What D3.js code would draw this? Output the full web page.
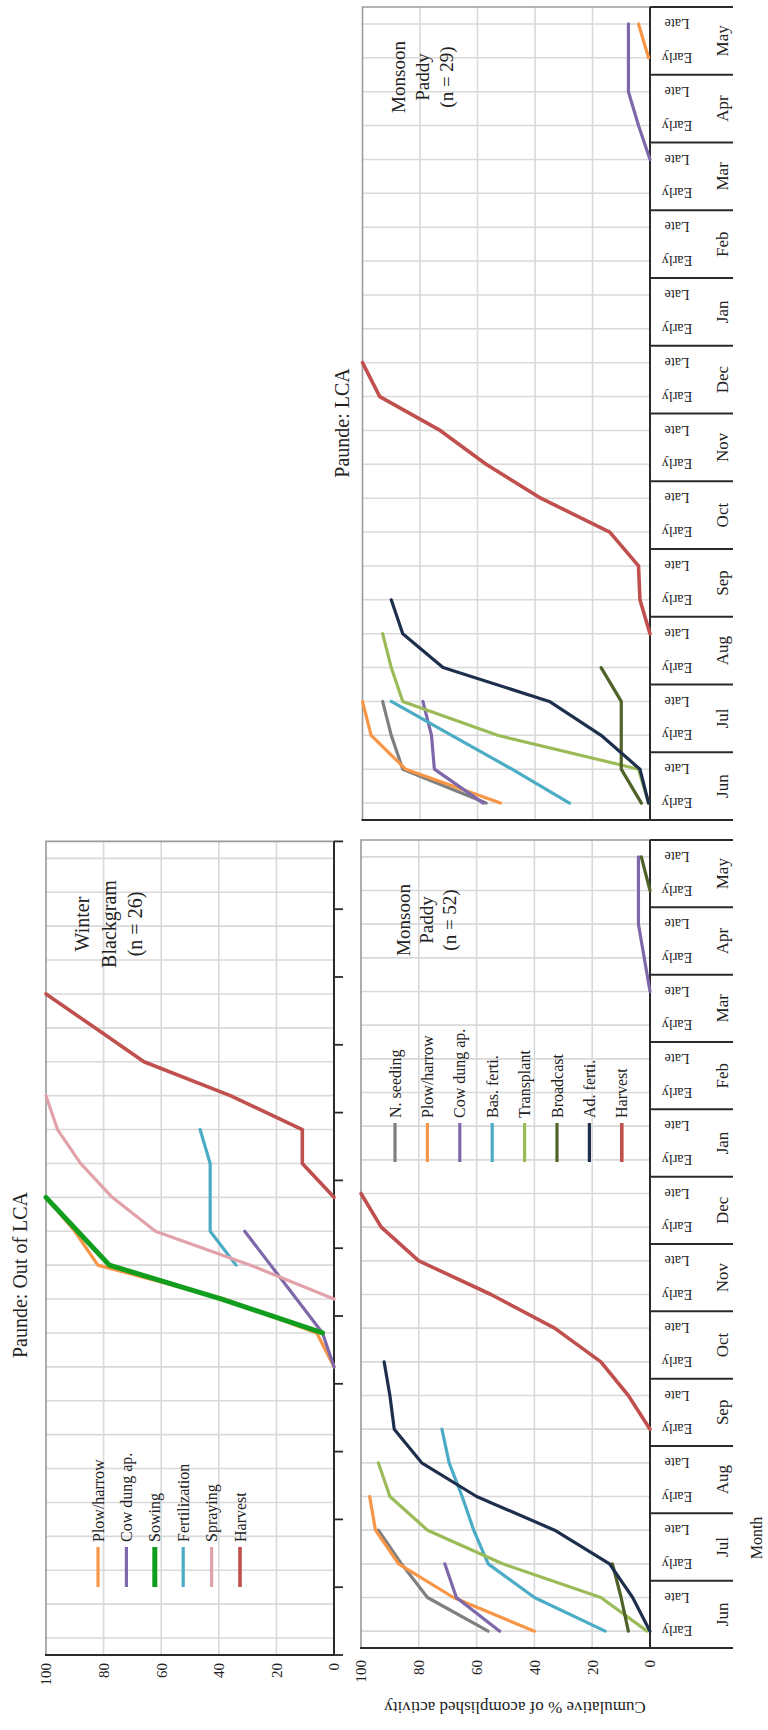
<!DOCTYPE html>
<html>
<head>
<meta charset="utf-8">
<script src="https://cdn.jsdelivr.net/npm/d3@7"></script>
<style>
  html, body { margin: 0; padding: 0; background: #fff; }
  svg { display: block; }
</style>
</head>
<body>
<svg id="fig" width="768" height="1730"></svg>
<script>
// ---------- categories ----------
const months = ["Jun","Jul","Aug","Sep","Oct","Nov","Dec","Jan","Feb","Mar","Apr","May"];
const periods = ["Early","Late"];
const categories = months.flatMap(m => periods.map(p => `${m} ${p}`));
const valueTicks = [0, 20, 40, 60, 80, 100];
const _ = null;

// ---------- Paunde: Out of LCA, Winter Blackgram (n = 26) ----------
//                      Jun    Jul    Aug    Sep    Oct    Nov     Dec     Jan      Feb     Mar     Apr    May
const wbPlowHarrow   = [_,_,  _,_,  _,_,  _,_,  0,6,   38,82,  90,100, _,_,     _,_,    _,_,    _,_,   _,_];
const wbCowDung      = [_,_,  _,_,  _,_,  _,_,  0,4,   13,22,  31,_,   _,_,     _,_,    _,_,    _,_,   _,_];
const wbSowing       = [_,_,  _,_,  _,_,  _,_,  _,4,   39,78,  89,100, _,_,     _,_,    _,_,    _,_,   _,_];
const wbFertilization= [_,_,  _,_,  _,_,  _,_,  _,_,   _,34,   43,43,  43,46.5, _,_,    _,_,    _,_,   _,_];
const wbSpraying     = [_,_,  _,_,  _,_,  _,_,  _,_,   0,29,   62,77,  88,96,   100,_,  _,_,    _,_,   _,_];
const wbHarvest      = [_,_,  _,_,  _,_,  _,_,  _,_,   _,_,    _,0,    11,11,   36,66,  83,100, _,_,   _,_];

// ---------- Paunde: Out of LCA, Monsoon Paddy (n = 52) ----------
const mpNSeeding     = [56,77,   86,94,   _,_,     _,_,     _,_,   _,_,    _,_,   _,_, _,_, _,_, _,_, _,_];
const mpPlowHarrow   = [40,68,   87,95,   97,_,    _,_,     _,_,   _,_,    _,_,   _,_, _,_, _,_, _,_, _,_];
const mpCowDung      = [52,67,   71,_,    _,_,     _,_,     _,_,   _,_,    _,_,   _,_, _,_, _,0, 2,4, 4,4];
const mpBasFerti     = [15.5,40, 56,61,   65,69.5, 72,_,    _,_,   _,_,    _,_,   _,_, _,_, _,_, _,_, _,_];
const mpTransplant   = [1,17,    51,77,   90,94,   _,_,     _,_,   _,_,    _,_,   _,_, _,_, _,_, _,_, _,_];
const mpBroadcast    = [7.5,10,  13,_,    _,_,     _,_,     _,_,   _,_,    _,_,   _,_, _,_, _,_, _,_, 0,3];
const mpAdFerti      = [0,6,     14,33,   60,79,   88.5,90, 92,_,  _,_,    _,_,   _,_, _,_, _,_, _,_, _,_];
const mpHarvest      = [_,_,     _,_,     _,_,     0,7.5,   17,33, 55,80,  93,100, _,_, _,_, _,_, _,_, _,_];

// ---------- Paunde: LCA, Monsoon Paddy (n = 29) ----------
const lcNSeeding     = [57,86,   90,93,   _,_,     _,_,     _,_,   _,_,    _,_,   _,_, _,_, _,_, _,_,     _,_];
const lcPlowHarrow   = [52,85,   97,100,  _,_,     _,_,     _,_,   _,_,    _,_,   _,_, _,_, _,_, _,_,     0.5,4];
const lcCowDung      = [58,75,   76,79,   _,_,     _,_,     _,_,   _,_,    _,_,   _,_, _,_, _,0, 4,7.5,   7.5,7.5];
const lcBasFerti     = [28,48,   69,90,   _,_,     _,_,     _,_,   _,_,    _,_,   _,_, _,_, _,_, _,_,     _,_];
const lcTransplant   = [0.5,4,   53,86,   90,93,   _,_,     _,_,   _,_,    _,_,   _,_, _,_, _,_, _,_,     _,_];
const lcBroadcast    = [3,10,    10,10,   17,_,    _,_,     _,_,   _,_,    _,_,   _,_, _,_, _,_, _,_,     _,_];
const lcAdFerti      = [0.5,3.5, 17,35,   72,86,   90,_,    _,_,   _,_,    _,_,   _,_, _,_, _,_, _,_,     _,_];
const lcHarvest      = [_,_,     _,_,     _,0,     3.5,4,   14,38, 57,73,  94,100, _,_, _,_, _,_, _,_,    _,_];

// ---------- styles ----------
const SERIF = "'Liberation Serif', 'Times New Roman', Times, serif";
const INK = "#222";
const GRID = "#d9d9d9";
const FRAME = "#9a9a9a";
const AXIS = "#2a2a2a";
const palette = {
  plow: "#F79646", cow: "#7F68AA", sow: "#119E1E", fert: "#4BACC6", spray: "#E2A2AA",
  harvest: "#C0504D", nseed: "#7F7F7F", trans: "#9BBB59", broad: "#4F6228", ad: "#1E2F4D"
};

const svg = d3.select("#fig");
// The figure is laid out in landscape coordinates (1730 x 768) and turned a quarter turn.
const fig = svg.append("g")
  .attr("transform", "translate(0,1730) rotate(-90)")
  .attr("font-family", SERIF)
  .attr("fill", INK);

function drawPanel(p) {
  const x = d3.scaleBand().domain(categories).range([p.x0, p.x1]);
  const xMonth = d3.scaleBand().domain(months).range([p.x0, p.x1]);
  const y = d3.scaleLinear().domain([0, 100]).range([p.yBase, p.yTop]);
  const cx = c => x(c) + x.bandwidth() / 2;
  const g = fig.append("g");

  // gridlines
  g.append("g").selectAll("line").data(valueTicks.filter(v => v > 0 && v < 100)).join("line")
    .attr("x1", p.x0).attr("x2", p.x1).attr("y1", d => y(d)).attr("y2", d => y(d))
    .attr("stroke", GRID).attr("stroke-width", 1.6);
  g.append("g").selectAll("line").data(categories).join("line")
    .attr("x1", cx).attr("x2", cx).attr("y1", y(0)).attr("y2", y(100))
    .attr("stroke", GRID).attr("stroke-width", 1.6);

  // plot frame (top and right edges)
  g.append("path")
    .attr("d", `M${p.x0},${y(100)}H${p.x1}V${y(0)}`)
    .attr("fill", "none").attr("stroke", FRAME).attr("stroke-width", 1.6);

  // value axis
  const ya = g.append("g").attr("transform", `translate(${p.x0},0)`)
    .call(d3.axisLeft(y).tickValues(valueTicks).tickSize(0).tickPadding(p.labelPad));
  ya.select(".domain").remove();
  ya.attr("font-family", SERIF).attr("font-size", 15).attr("fill", INK);
  ya.selectAll("text").attr("fill", INK);
  if (!p.valueLabels) ya.selectAll(".tick").remove();

  const boxDepth = p.monthBox ? 83 : 0;
  g.append("line")
    .attr("x1", p.x0).attr("x2", p.x0).attr("y1", y(100) - 1).attr("y2", p.yBase + boxDepth)
    .attr("stroke", AXIS).attr("stroke-width", 2);
  g.append("line")
    .attr("x1", p.x0).attr("x2", p.x1).attr("y1", p.yBase).attr("y2", p.yBase)
    .attr("stroke", AXIS).attr("stroke-width", 2);

  const bounds = months.map(m => xMonth(m)).concat([p.x1]);
  if (p.monthBox) {
    g.append("g").selectAll("line").data(bounds).join("line")
      .attr("x1", d => d).attr("x2", d => d)
      .attr("y1", p.yBase).attr("y2", p.yBase + boxDepth)
      .attr("stroke", AXIS).attr("stroke-width", 2);

    const half = g.append("g").attr("transform", `translate(0,${p.yBase})`)
      .call(d3.axisBottom(x).tickSize(0).tickFormat(c => c.split(" ")[1]));
    half.select(".domain").remove();
    half.attr("font-family", SERIF).attr("font-size", 14);
    half.selectAll("text")
      .attr("fill", INK).attr("y", null).attr("dy", "0.35em")
      .attr("text-anchor", "middle")
      .attr("transform", "translate(0,27) rotate(-90)");

    const mon = g.append("g").attr("transform", `translate(0,${p.yBase})`)
      .call(d3.axisBottom(xMonth).tickSize(0));
    mon.select(".domain").remove();
    mon.attr("font-family", SERIF).attr("font-size", 17);
    mon.selectAll("text").attr("fill", INK).attr("y", 72).attr("dy", "0.35em");
  } else {
    g.append("g").selectAll("line").data(bounds).join("line")
      .attr("x1", d => d).attr("x2", d => d)
      .attr("y1", p.yBase).attr("y2", p.yBase + 9)
      .attr("stroke", AXIS).attr("stroke-width", 1.8);
  }

  // series
  const line = d3.line()
    .defined(d => d.v !== null)
    .x(d => cx(d.c))
    .y(d => y(d.v));
  g.append("g").selectAll("path").data(p.series).join("path")
    .attr("d", s => line(s.values.map((v, i) => ({ c: categories[i], v }))))
    .attr("fill", "none")
    .attr("stroke", s => s.color)
    .attr("stroke-width", s => s.width || 3.2)
    .attr("stroke-linejoin", "round")
    .attr("stroke-linecap", "round");

  // legend
  if (p.legend) {
    const L = p.legend;
    const items = g.append("g").selectAll("g").data(p.series).join("g")
      .attr("transform", (s, i) => `translate(0,${L.y0 + i * L.step})`);
    items.append("line")
      .attr("x1", L.x0).attr("x2", L.x0 + L.len)
      .attr("stroke", s => s.color).attr("stroke-width", s => s.width || 3.2);
    items.append("text")
      .attr("x", L.x0 + L.len + 5).attr("dy", "0.35em")
      .attr("font-size", 16).attr("fill", INK)
      .text(s => s.name);
  }

  // crop note
  const note = g.append("text").attr("text-anchor", "middle")
    .attr("font-size", p.note.size).attr("fill", INK);
  p.note.lines.forEach((t, i) => {
    note.append("tspan")
      .attr("x", p.note.x).attr("y", p.note.y0 + i * p.note.step)
      .attr("dy", "0.35em").text(t);
  });
}

// Winter Blackgram (out of LCA)
drawPanel({
  x0: 75, x1: 888.6, yTop: 46, yBase: 334, labelPad: 8, valueLabels: true, monthBox: false,
  series: [
    { name: "Plow/harrow", color: palette.plow, values: wbPlowHarrow },
    { name: "Cow dung ap.", color: palette.cow, values: wbCowDung },
    { name: "Sowing", color: palette.sow, values: wbSowing, width: 5 },
    { name: "Fertilization", color: palette.fert, values: wbFertilization },
    { name: "Spraying", color: palette.spray, values: wbSpraying },
    { name: "Harvest", color: palette.harvest, values: wbHarvest, width: 3.6 }
  ],
  legend: { x0: 143, len: 40, y0: 98, step: 28.4 },
  note: { x: 806, y0: 82, step: 26.7, size: 20, lines: ["Winter", "Blackgram", "(n = 26)"] }
});

// Monsoon Paddy (out of LCA)
drawPanel({
  x0: 82, x1: 890, yTop: 361, yBase: 650, labelPad: 12, valueLabels: true, monthBox: true,
  series: [
    { name: "N. seeding", color: palette.nseed, values: mpNSeeding },
    { name: "Plow/harrow", color: palette.plow, values: mpPlowHarrow },
    { name: "Cow dung ap.", color: palette.cow, values: mpCowDung },
    { name: "Bas. ferti.", color: palette.fert, values: mpBasFerti },
    { name: "Transplant", color: palette.trans, values: mpTransplant },
    { name: "Broadcast", color: palette.broad, values: mpBroadcast },
    { name: "Ad. ferti.", color: palette.ad, values: mpAdFerti },
    { name: "Harvest", color: palette.harvest, values: mpHarvest, width: 3.6 }
  ],
  legend: { x0: 568, len: 39, y0: 395, step: 32.4 },
  note: { x: 810, y0: 403, step: 23, size: 19, lines: ["Monsoon", "Paddy", "(n = 52)"] }
});

// Monsoon Paddy (LCA)
drawPanel({
  x0: 910, x1: 1723, yTop: 362.5, yBase: 650, labelPad: 12, valueLabels: false, monthBox: true,
  series: [
    { name: "N. seeding", color: palette.nseed, values: lcNSeeding },
    { name: "Plow/harrow", color: palette.plow, values: lcPlowHarrow },
    { name: "Cow dung ap.", color: palette.cow, values: lcCowDung },
    { name: "Bas. ferti.", color: palette.fert, values: lcBasFerti },
    { name: "Transplant", color: palette.trans, values: lcTransplant },
    { name: "Broadcast", color: palette.broad, values: lcBroadcast },
    { name: "Ad. ferti.", color: palette.ad, values: lcAdFerti },
    { name: "Harvest", color: palette.harvest, values: lcHarvest, width: 3.6 }
  ],
  legend: null,
  note: { x: 1653, y0: 398, step: 24, size: 19, lines: ["Monsoon", "Paddy", "(n = 29)"] }
});

// titles
fig.append("text").attr("x", 455).attr("y", 20).attr("dy", "0.35em")
  .attr("text-anchor", "middle").attr("font-size", 20).text("Paunde: Out of LCA");
fig.append("text").attr("x", 1307).attr("y", 342).attr("dy", "0.35em")
  .attr("text-anchor", "middle").attr("font-size", 20).text("Paunde: LCA");

// axis titles
fig.append("text")
  .attr("transform", "translate(22,515) rotate(-90)")
  .attr("dy", "0.35em").attr("text-anchor", "middle").attr("font-size", 17)
  .text("Cumulative % of acomplished activity");
fig.append("text").attr("x", 192).attr("y", 756).attr("dy", "0.35em")
  .attr("text-anchor", "middle").attr("font-size", 16).text("Month");
</script>
</body>
</html>
